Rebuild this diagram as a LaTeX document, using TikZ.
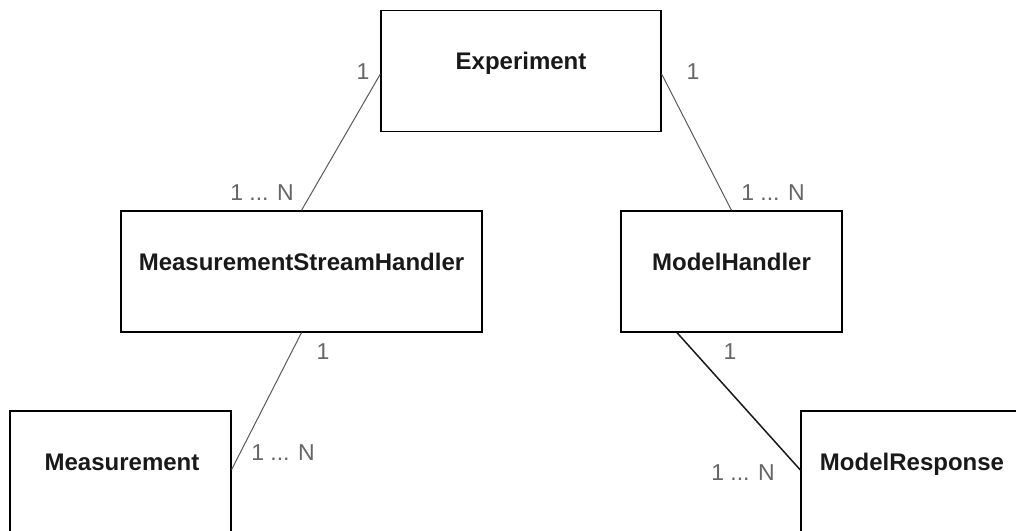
\documentclass[tikz,border=0pt]{standalone}
\usepackage{fontspec}
\setmainfont{Liberation Sans}
\begin{document}
\begin{tikzpicture}[x=1pt,y=-1pt,
  entity/.style={draw=black, line width=1.3pt, fill=white, minimum width=#1,
    minimum height=121pt, inner sep=0pt},
  title/.style={anchor=base, inner sep=0pt, text=black!90,
    font=\fontsize{24}{28}\selectfont\bfseries},
  conn/.style={draw=black!65, line width=1pt},
  strongconn/.style={draw=black!90, line width=1.5pt},
  mult/.style={inner sep=0pt, text=black!60, font=\fontsize{23}{27}\selectfont}]
  % page frame
  \useasboundingbox (0,0) rectangle (1016,530);
  \clip (0,0) rectangle (1016,530);

  % entities
  \node[entity=280pt] (exp)  at (521,71)      {};
  \node[entity=361pt] (msh)  at (301.5,271.5) {};
  \node[entity=221pt] (mh)   at (731.5,271.5) {};
  \node[entity=221pt] (meas) at (120.5,471.5) {};
  \node[entity=222pt] (mr)   at (912,471.5)   {};

  % entity names
  \node[title] (expT)  at ([yshift=1.5pt]exp.center)  {Experiment};
  \node[title] (mshT)  at ([yshift=1.5pt]msh.center)  {MeasurementStreamHandler};
  \node[title] (mhT)   at ([yshift=1.5pt]mh.center)   {ModelHandler};
  \node[title] (measT) at ([xshift=1.5pt,yshift=1.5pt]meas.center) {Measurement};
  \node[title] (mrT)   at ([yshift=1.5pt]mr.center)   {ModelResponse};

  % associations
  \draw[conn] ([yshift=-3pt]exp.west) -- (msh.north);
  \draw[conn] ([yshift=-3pt]exp.east) -- (mh.north);
  \draw[conn] (msh.south) -- ([yshift=2pt]meas.east);
  \draw[strongconn] ([xshift=-54.5pt]mh.south) -- ([yshift=1.5pt]mr.west);

  % multiplicities
  \node[mult] (m1) at (363,72)  {1};
  \node[mult] (m2) at (693,72)  {1};
  \node[mult] (m3) at (262,193) {1 ... N};
  \node[mult] (m4) at (773,193) {1 ... N};
  \node[mult] (m5) at (323,352) {1};
  \node[mult] (m6) at (283,453) {1 ... N};
  \node[mult] (m7) at (730,352) {1};
  \node[mult] (m8) at (743,473) {1 ... N};
\end{tikzpicture}
\end{document}
